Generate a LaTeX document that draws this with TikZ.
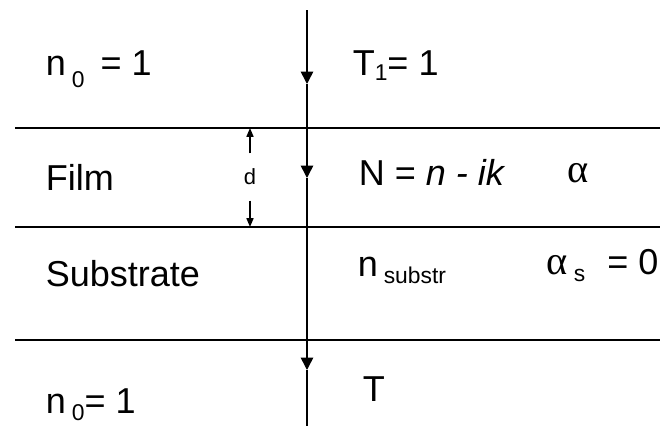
\documentclass[tikz,border=0pt]{standalone}
\usepackage{fontspec}
\setmainfont{Liberation Sans}
\newfontfamily\grk{Liberation Serif}
\usetikzlibrary{arrows.meta}
\newcommand\lowsub[2]{\raisebox{-#1}{\fontsize{13}{15}\selectfont #2}}

\begin{document}
\begin{tikzpicture}[x=0.02cm,y=-0.02cm,line width=0.9pt,>={Triangle[width=7pt,length=7pt]},
    lbl/.style={anchor=base west,inner sep=0pt,font=\fontsize{20.5}{24}\selectfont},
    dim/.style={line width=0.8pt,-{Triangle[width=4pt,length=5pt]}}]
  \useasboundingbox (0,0) rectangle (660,426);
  % interfaces
  \foreach \y in {128,227,340} \draw (15,\y) -- (660,\y);
  % the ray
  \coordinate (r0) at (307,10);\coordinate (r1) at (307,84);\coordinate (r2) at (307,178);
  \coordinate (r3) at (307,370);\coordinate (r4) at (307,426);
  \draw[->] (r0)--(r1);\draw[->] (r1)--(r2);\draw[->] (r2)--(r3);\draw (r3)--(r4);
  % thickness
  \node[inner sep=0pt,minimum height=26pt,font=\fontsize{12.5}{14}\selectfont] (d) at (250,177) {d};
  \coordinate (dtop) at (250,128);\coordinate (dbot) at (250,227);
  \draw[dim] (d)--(dtop);\draw[dim] (d)--(dbot);
  % left labels
  \node[lbl] (air1) at (45,75) {n\,\lowsub{7pt}{0}\, = 1};
  \node[lbl] (film) at (45,190) {Film};
  \node[lbl] (sub) at (45,286) {Substrate};
  \node[lbl] (air2) at (45,413) {n\,\lowsub{4.5pt}{0}= 1};
  % right labels
  \node[lbl] (tin) at (352,75) {T\lowsub{3pt}{1}= 1};
  \node[lbl] (nfilm) at (358,185) {N = \textit{n - ik}};
  \node[lbl] (afilm) at (567,182) {{\grk\fontsize{23}{26}\selectfont α}};
  \node[lbl] (nsub) at (357,276) {n\,\lowsub{4pt}{substr}};
  \node[lbl] (asub) at (546,274) {{\grk\fontsize{23}{26}\selectfont α}\,\lowsub{4pt}{s}\,\, = 0};
  \node[lbl] (tout) at (362,401) {T};
\end{tikzpicture}
\end{document}
